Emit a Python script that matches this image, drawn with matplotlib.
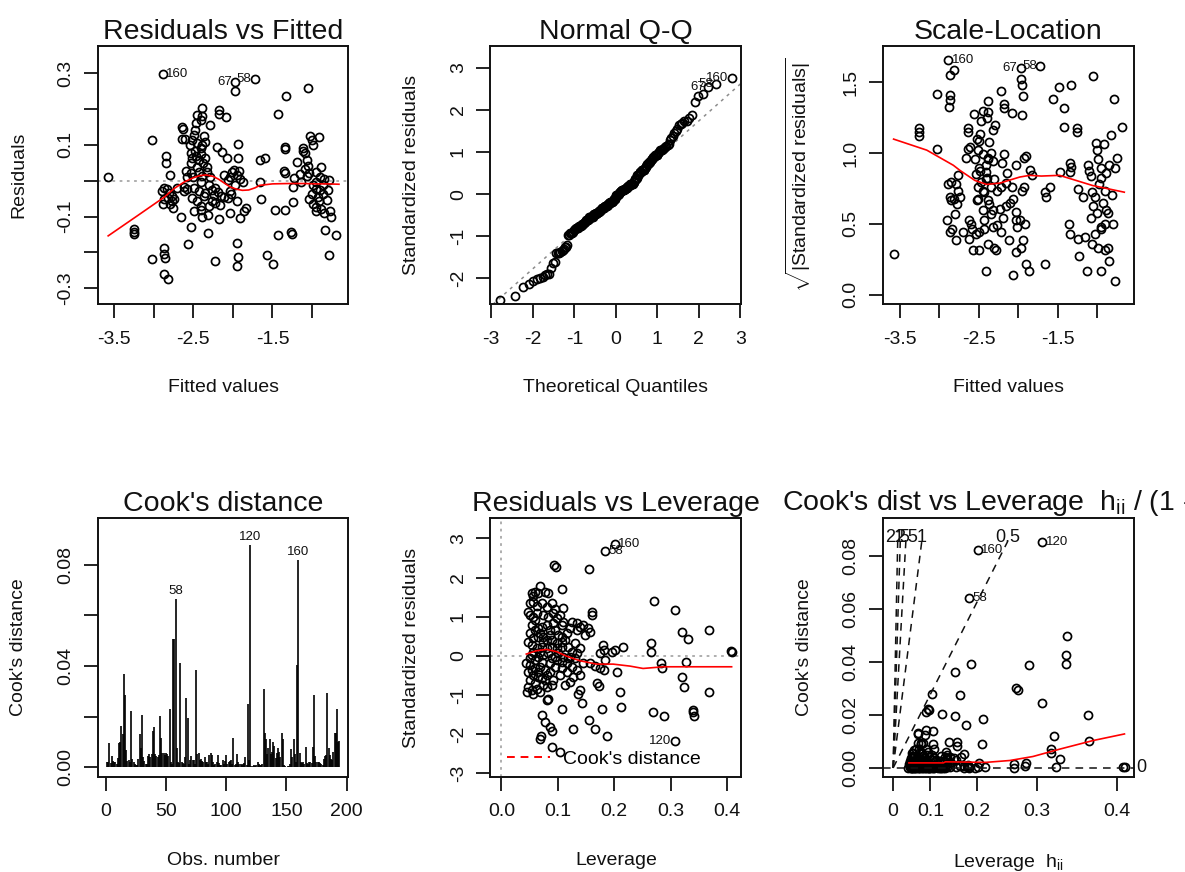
import numpy as np
import matplotlib
matplotlib.use("Agg")
import matplotlib.pyplot as plt
from matplotlib.lines import Line2D
from statistics import NormalDist

# ---- lm diagnostics, values ----

# fitted values and raw residuals (Residuals vs Fitted panel)
fitted = np.array([
    -3.575, -3.25, -3.25, -3.25, -3.021, -3.021, -2.883, -2.846, -2.846, -2.792,
    -2.867, -2.9, -2.833, -2.804, -2.775, -2.867, -2.817, -2.763, -2.742, -2.883,
    -2.792, -2.758, -2.875, -2.867, -2.858, -2.867, -2.817, -2.658, -2.638, -2.633,
    -2.638, -2.604, -2.596, -2.617, -2.583, -2.525, -2.563, -2.513, -2.471, -2.479,
    -2.388, -2.388, -2.4, -2.292, -2.492, -2.513, -2.45, -2.367, -2.346, -2.542,
    -2.533, -2.479, -2.408, -2.513, -2.429, -2.525, -2.379, -2.346, -2.45, -2.325,
    -2.471, -2.4, -2.533, -2.429, -2.388, -2.325, -2.283, -2.5, -2.492, -2.408,
    -2.304, -2.263, -2.346, -2.429, -2.408, -2.408, -2.304, -2.388, -2.317, -2.45,
    -2.317, -2.179, -2.179, -2.083, -2.2, -2.137, -2.075, -2.221, -2.192, -2.15,
    -2.108, -2.063, -2.025, -2.233, -2.012, -1.983, -2.033, -1.971, -1.917, -1.908,
    -1.942, -2.067, -1.929, -1.929, -1.971, -1.971, -1.95, -1.938, -1.95, -2.221,
    -1.858, -1.908, -2.033, -2.179, -1.833, -1.721, -1.658, -1.596, -1.658, -1.65,
    -1.429, -1.333, -1.346, -1.337, -1.358, -1.346, -1.229, -1.242, -1.471, -1.342,
    -1.242, -1.429, -1.262, -1.254, -1.567, -1.492, -1.054, -1.021, -0.917, -1.0,
    -1.117, -1.083, -0.992, -1.108, -1.188, -1.067, -1.054, -1.083, -1.158, -1.033,
    -0.95, -0.887, -0.9, -0.854, -0.783, -1.067, -0.992, -0.95, -0.9, -0.867,
    -1.0, -0.929, -1.033, -0.908, -0.817, -0.8, -0.95, -0.95, -0.887, -0.854,
    -0.775, -0.758, -0.983, -0.833, -0.692, -0.792, -1.138, -0.95, -0.867, -2.575,
    -2.367, -2.263, -2.221, -2.033, -2.117, -2.492, -2.617, -2.388, -2.45, -2.7,
    -2.158, -1.95, -1.867])
residuals = np.array([
    0.009, -0.135, -0.142, -0.15, 0.114, -0.218, 0.297, 0.068, 0.048, 0.016,
    -0.021, -0.03, -0.023, -0.035, -0.044, -0.051, -0.049, -0.058, -0.051, -0.066,
    -0.066, -0.077, -0.189, -0.204, -0.215, -0.261, -0.273, -0.1, 0.15, 0.143,
    0.115, 0.117, 0.027, -0.017, -0.023, -0.13, -0.176, -0.049, 0.162, 0.14,
    0.202, 0.18, 0.168, 0.156, 0.128, 0.113, 0.106, 0.125, 0.108, 0.099,
    0.078, 0.082, 0.09, 0.062, 0.057, 0.048, 0.048, 0.062, 0.039, 0.039,
    0.069, 0.073, 0.02, 0.023, 0.014, 0.025, 0.011, 0.011, -0.021, -0.003,
    -0.012, -0.026, -0.035, -0.03, -0.072, -0.081, -0.072, -0.1, -0.097, -0.058,
    -0.146, 0.196, 0.187, 0.177, 0.094, 0.08, 0.062, -0.021, -0.032, -0.042,
    -0.045, -0.049, -0.037, -0.04, 0.025, 0.03, 0.01, -0.012, 0.027, 0.005,
    0.016, 0.002, 0.101, 0.062, 0.276, 0.251, -0.174, -0.212, -0.238, -0.223,
    -0.084, -0.104, -0.09, -0.106, -0.077, 0.283, 0.057, 0.062, -0.005, -0.051,
    0.187, 0.237, 0.094, 0.088, 0.027, 0.02, 0.008, -0.017, -0.081, -0.081,
    -0.06, -0.152, -0.143, -0.149, -0.206, -0.232, 0.258, 0.124, 0.122, 0.113,
    0.09, 0.076, 0.099, 0.082, 0.051, 0.057, 0.042, 0.032, 0.018, 0.02,
    0.025, 0.039, 0.011, 0.006, 0.001, 0.014, -0.012, -0.023, -0.027, -0.036,
    -0.036, -0.045, -0.051, -0.058, -0.054, -0.027, -0.073, -0.086, -0.08, -0.091,
    -0.086, -0.1, -0.066, -0.137, -0.152, -0.207, -0.003, -0.003, -0.012, 0.011,
    -0.044, -0.058, -0.063, -0.03, 0.016, -0.086, -0.03, 0.099, 0.182, -0.021,
    -0.067, -0.058, -0.003])
resid_ids = [160, 58, 67]          # labels of the 3 largest |residuals|
sigma_hat = 0.108                   # residual standard error

# lowess smooths as drawn in the reference
smooth1_x = [-3.575, -3.2, -2.867, -2.742, -2.617, -2.5, -2.42, -2.34, -2.25, -2.18, -2.1, -2.03,
             -1.95, -1.88, -1.8, -1.72, -1.66, -1.5, -1.3, -1.1, -0.95, -0.8, -0.66]
smooth1_y = [-0.154, -0.097, -0.046, -0.022, -0.004, 0.008, 0.014, 0.016, 0.012, 0.004, -0.008, -0.018,
             -0.024, -0.027, -0.026, -0.02, -0.013, -0.009, -0.008, -0.008, -0.009, -0.009, -0.01]
smooth3_x = [-3.575, -3.156, -2.82, -2.737, -2.548, -2.4, -2.234, -1.982, -1.856, -1.71, -1.479,
             -1.27, -1.06, -0.661]
smooth3_y = [1.099, 1.021, 0.914, 0.878, 0.807, 0.779, 0.788, 0.831, 0.843, 0.838, 0.843,
             0.807, 0.771, 0.724]

# Cook's distance by observation number
cooks = np.array([
    0.0022, 0.0020, 0.0095, 0.0018, 0.0046, 0.0025, 0.0022, 0.0022, 0.0012, 0.0035,
    0.0098, 0.0100, 0.0165, 0.0130, 0.0370, 0.0286, 0.0070, 0.0025, 0.0030, 0.0020,
    0.0224, 0.0033, 0.0020, 0.0012, 0.0010, 0.0008, 0.0033, 0.0130, 0.0075, 0.0207,
    0.0040, 0.0025, 0.0015, 0.0012, 0.0045, 0.0052, 0.0040, 0.0052, 0.0143, 0.0160,
    0.0052, 0.0045, 0.0042, 0.0050, 0.0202, 0.0117, 0.0055, 0.0058, 0.0050, 0.0055,
    0.0052, 0.0045, 0.0230, 0.0020, 0.0012, 0.0505, 0.0507, 0.0663, 0.0078, 0.0020,
    0.0018, 0.0412, 0.0020, 0.0018, 0.0012, 0.0040, 0.0273, 0.0195, 0.0012, 0.0030,
    0.0043, 0.0030, 0.0028, 0.0015, 0.0386, 0.0052, 0.0058, 0.0030, 0.0032, 0.0025,
    0.0020, 0.0040, 0.0022, 0.0020, 0.0015, 0.0050, 0.0058, 0.0050, 0.0020, 0.0008,
    0.0012, 0.0020, 0.0048, 0.0018, 0.0010, 0.0008, 0.0030, 0.0015, 0.0025, 0.0048,
    0.0012, 0.0020, 0.0025, 0.0030, 0.0012, 0.0114, 0.0010, 0.0015, 0.0052, 0.0020,
    0.0012, 0.0012, 0.0010, 0.0015, 0.0018, 0.0040, 0.0010, 0.0250, 0.0030, 0.0878,
    0.0005, 0.0004, 0.0008, 0.0006, 0.0010, 0.0022, 0.0012, 0.0010, 0.0008, 0.0015,
    0.0308, 0.0137, 0.0110, 0.0052, 0.0075, 0.0110, 0.0052, 0.0060, 0.0100, 0.0085,
    0.0035, 0.0058, 0.0078, 0.0060, 0.0040, 0.0137, 0.0110, 0.0008, 0.0004, 0.0003,
    0.0005, 0.0006, 0.0012, 0.0072, 0.0040, 0.0110, 0.0052, 0.0020, 0.0403, 0.0820,
    0.0058, 0.0020, 0.0018, 0.0022, 0.0015, 0.0081, 0.0018, 0.0015, 0.0020, 0.0022,
    0.0018, 0.0080, 0.0286, 0.0045, 0.0022, 0.0020, 0.0020, 0.0018, 0.0012, 0.0010,
    0.0032, 0.0045, 0.0050, 0.0293, 0.0078, 0.0050, 0.0032, 0.0030, 0.0062, 0.0137,
    0.0137, 0.0230, 0.0100, 0.0102])

# leverage and standardized residuals (Residuals vs Leverage panel)
leverage = np.array([
    0.2012, 0.1834, 0.0930, 0.0965, 0.1557, 0.0681, 0.0533, 0.0562, 0.0592, 0.0651,
    0.0770, 0.0829, 0.1066, 0.0503, 0.0551, 0.0622, 0.0710, 0.0799, 0.0888, 0.0947,
    0.1095, 0.0503, 0.0562, 0.0622, 0.0740, 0.0829, 0.0918, 0.1036, 0.1083, 0.1066,
    0.1243, 0.1332, 0.1391, 0.1451, 0.1539, 0.1599, 0.1599, 0.1569, 0.1480, 0.1332,
    0.1214, 0.1155, 0.0533, 0.0592, 0.0651, 0.0710, 0.0799, 0.0858, 0.0947, 0.1007,
    0.1066, 0.0503, 0.0562, 0.0651, 0.0740, 0.0799, 0.0888, 0.0977, 0.1066, 0.1125,
    0.0533, 0.0622, 0.0710, 0.0799, 0.0888, 0.0977, 0.1066, 0.1184, 0.1243, 0.1332,
    0.0533, 0.0651, 0.0740, 0.0829, 0.0947, 0.1095, 0.1214, 0.1303, 0.1806, 0.1818,
    0.1747, 0.1835, 0.0432, 0.0503, 0.0592, 0.0681, 0.0770, 0.0474, 0.0562, 0.0651,
    0.0503, 0.0592, 0.0710, 0.0799, 0.0858, 0.0947, 0.0977, 0.1066, 0.1155, 0.1243,
    0.1332, 0.1391, 0.1155, 0.1066, 0.1273, 0.0918, 0.1036, 0.1214, 0.0888, 0.0799,
    0.0474, 0.0533, 0.0622, 0.0681, 0.0740, 0.0562, 0.0444, 0.0811, 0.1421, 0.1066,
    0.0829, 0.0710, 0.0769, 0.0858, 0.0888, 0.0698, 0.0680, 0.0888, 0.1036, 0.1550,
    0.1657, 0.1272, 0.1734, 0.1787, 0.1876, 0.2041, 0.2101, 0.2112, 0.1817, 0.1568,
    0.1657, 0.1746, 0.1686, 0.1390, 0.1361, 0.2645, 0.2651, 0.2704, 0.3077, 0.3195,
    0.3314, 0.3680, 0.4065, 0.4083, 0.2822, 0.2840, 0.3272, 0.3195, 0.3237, 0.3675,
    0.2680, 0.2882, 0.3402, 0.3402, 0.3414, 0.3077, 0.1953, 0.2148, 0.2012, 0.0503,
    0.0562, 0.0681, 0.0740, 0.0592, 0.0681, 0.0858, 0.0918, 0.0977, 0.0858, 0.0710,
    0.0592, 0.0651, 0.0769, 0.1125, 0.1184, 0.1303, 0.1391, 0.1451, 0.1007, 0.0888,
    0.0533, 0.0474, 0.0474])
std_resid_lev = np.array([
    2.855, 2.667, 2.325, 2.265, 2.214, 1.786, 1.598, 1.530, 1.641, 1.598,
    1.641, 1.598, 1.701, 1.342, 1.385, 1.274, 1.342, 1.256, 1.342, 1.188,
    1.214, 1.043, 1.000, 1.085, 1.043, 1.000, 1.085, 1.043, 0.872, 0.786,
    0.872, 0.829, 0.744, 0.786, 0.701, 1.128, 1.043, 0.615, 0.530, 0.658,
    0.701, 0.573, 0.786, 0.658, 0.701, 0.744, 0.786, 0.658, 0.658, 0.530,
    0.487, 0.573, 0.444, 0.487, 0.487, 0.402, 0.402, 0.316, 0.359, 0.402,
    0.274, 0.188, 0.231, 0.188, 0.231, 0.188, 0.231, 0.231, 0.103, 0.060,
    0.017, -0.026, 0.017, 0.060, -0.026, -0.026, -0.026, -0.068, 0.274, 0.145,
    0.060, -0.111, -0.197, -0.239, -0.325, -0.282, -0.368, -0.410, -0.496, -0.538,
    -0.624, -0.709, -0.581, -0.496, -0.410, -0.282, -0.111, -0.154, -0.197, -0.282,
    -0.368, -0.496, -0.410, -0.325, -0.538, -0.624, -0.496, -0.667, -0.752, -0.795,
    -0.795, -0.880, -0.838, -0.923, -0.752, -0.966, -0.923, -1.137, -1.205, -1.368,
    -1.094, -1.521, -1.692, -1.821, -1.923, -2.060, -2.128, -2.333, -2.462, -1.632,
    -1.863, -1.863, -0.778, -1.368, -2.060, -0.427, -0.923, -1.308, -0.368, -0.179,
    -0.265, -0.325, -0.709, -0.880, -0.966, 0.316, 0.103, 1.410, 1.171, 0.615,
    0.419, 0.658, 0.128, 0.103, -0.197, -0.325, -0.154, -0.538, -0.795, -0.923,
    -1.436, -1.547, -1.376, -1.436, -1.547, -2.188, 0.103, 0.214, 0.145, -0.068,
    0.103, 0.103, 0.359, 0.902, 0.573, 0.529, 0.829, 0.958, -0.197, -0.154,
    -0.111, -0.410, -0.624, -0.752, -0.068, 0.316, 0.188, -0.197, 0.060, -0.068,
    -0.368, 0.359, 1.128])
cook_ids = [120, 160, 58]           # labels of the 3 largest Cook's distances
n_coef = 25                         # model size used in Cook's distance

smooth5_x = [0.044, 0.062, 0.08, 0.098, 0.115, 0.139, 0.169, 0.198, 0.228, 0.251, 0.287, 0.346, 0.408]
smooth5_y = [0.043, 0.128, 0.162, 0.103, -0.009, -0.128, -0.214, -0.214, -0.265, -0.325, -0.282,
             -0.282, -0.282]
smooth6_x = [0.045, 0.13, 0.135, 0.217, 0.258, 0.294, 0.332, 0.373, 0.408]
smooth6_y = [0.0019, 0.0019, 0.0023, 0.0021, 0.0028, 0.0043, 0.0071, 0.0103, 0.0128]

contour_levels = [0, 0.5, 1, 1.5, 2, 2.5]
contour_scale = 1.0

# ---- style ----
plt.rcParams['font.family'] = ['Liberation Sans', 'DejaVu Sans']
plt.rcParams['mathtext.fontset'] = 'custom'
plt.rcParams['mathtext.rm'] = 'Liberation Sans'
plt.rcParams['mathtext.it'] = 'Liberation Sans:italic'
plt.rcParams['mathtext.sf'] = 'Liberation Sans'
plt.rcParams['axes.unicode_minus'] = False

INK = '#111111'
TITLE_FS = 20.5
LAB_FS = 14
ID_FS = 9.5
pt = dict(marker='o', ls='none', mfc='none', mec='black', ms=5.8, mew=1.25)
red = dict(color='red', lw=1.2)
gray_dot = dict(color='#a8a8a8', lw=1.3, ls=(0, (1.5, 2.5)))
dash = dict(color=INK, lw=1.1, ls=(0, (5, 4)))

fig = plt.figure(figsize=(11.85, 8.72), dpi=100)
col_left = [0.0824, 0.4139, 0.7452]
row_bottom = [0.6510, 0.1090]
W, H = 0.2116, 0.2968
(ax1, ax2, ax3), (ax4, ax5, ax6) = [[fig.add_axes([c, r, W, H]) for c in col_left] for r in row_bottom]


def frame(ax, title, xlabel, ylabel, xticks, xlabels, yticks, ylabels):
    ax.set_title(title, fontsize=TITLE_FS, pad=5, color=INK)
    ax.set_xticks(xticks, xlabels)
    ax.set_yticks(yticks, ylabels, rotation=90, va='center')
    ax.tick_params(direction='out', length=10, width=1.3, labelsize=LAB_FS, colors=INK)
    ax.tick_params(axis='x', pad=9)
    ax.tick_params(axis='y', pad=7)
    for s in ax.spines.values():
        s.set_linewidth(1.4)
        s.set_color(INK)
    ax.set_xlabel(xlabel, fontsize=LAB_FS, color=INK)
    ax.set_ylabel(ylabel, fontsize=LAB_FS, color=INK)
    ax.xaxis.set_label_coords(0.5, -0.29)
    ax.yaxis.set_label_coords(-0.28, 0.5)


def tag(ax, x, y, ids, xmid):
    for xi, yi, lab in zip(x, y, ids):
        right = xi <= xmid
        ax.annotate(str(lab), (xi, yi), xytext=(2.5 if right else -2.5, 0), textcoords='offset points',
                    ha='left' if right else 'right', va='center', fontsize=ID_FS, color=INK)


std_res = residuals / sigma_hat
top = np.argsort(-np.abs(std_res))[:3]
fmid = (fitted.min() + fitted.max()) / 2

# 1. Residuals vs Fitted
ax1.axhline(0, **gray_dot)
ax1.plot(fitted, residuals, **pt)
ax1.plot(smooth1_x, smooth1_y, **red)
tag(ax1, fitted[top], residuals[top], resid_ids, fmid)
ax1.set_xlim(-3.708, -0.541)
ax1.set_ylim(-0.345, 0.377)
frame(ax1, "Residuals vs Fitted", "Fitted values", "Residuals",
      [-3.5, -3.0, -2.5, -2.0, -1.5, -1.0], ['-3.5', '', '-2.5', '', '-1.5', ''],
      [-0.3, -0.2, -0.1, 0.0, 0.1, 0.2, 0.3], ['-0.3', '', '-0.1', '', '0.1', '', '0.3'])

# 2. Normal Q-Q
n = len(std_res)
order = np.argsort(std_res)
nd = NormalDist()
theo = np.empty(n)
theo[order] = [nd.inv_cdf((i - 0.5) / n) for i in range(1, n + 1)]
q25, q75 = np.quantile(std_res, [0.25, 0.75])
z25, z75 = nd.inv_cdf(0.25), nd.inv_cdf(0.75)
ax2.axline((z25, q25), slope=(q75 - q25) / (z75 - z25), color='#8c8c8c', lw=1.1, ls=(0, (2, 3)))
ax2.plot(theo, std_res, **pt)
tag(ax2, theo[top], std_res[top], resid_ids, 0.0)
ax2.set_xlim(-3.02, 3.02)
ax2.set_ylim(-2.62, 3.53)
frame(ax2, "Normal Q-Q", "Theoretical Quantiles", "Standardized residuals",
      range(-3, 4), [str(v) for v in range(-3, 4)], range(-2, 4), [str(v) for v in range(-2, 4)])

# 3. Scale-Location
sl = np.sqrt(np.abs(std_res))
ax3.plot(fitted, sl, **pt)
ax3.plot(smooth3_x, smooth3_y, **red)
tag(ax3, fitted[top], sl[top], resid_ids, fmid)
ax3.set_xlim(-3.708, -0.541)
ax3.set_ylim(-0.068, 1.76)
frame(ax3, "Scale-Location", "Fitted values", r"$\sqrt{|\mathrm{Standardized\ residuals}|}$",
      [-3.5, -3.0, -2.5, -2.0, -1.5, -1.0], ['-3.5', '', '-2.5', '', '-1.5', ''],
      [0.0, 0.5, 1.0, 1.5], ['0.0', '0.5', '1.0', '1.5'])

# 4. Cook's distance
obs = np.arange(1, len(cooks) + 1)
ax4.vlines(obs, 0, cooks, color='black', lw=1.2)
for i in np.argsort(-cooks)[:3]:
    ax4.annotate(str(obs[i]), (obs[i], cooks[i]), xytext=(0, 1.5), textcoords='offset points',
                 ha='center', va='bottom', fontsize=ID_FS, color=INK)
ax4.set_xlim(-6.8, 201.5)
ax4.set_ylim(-0.0038, 0.0984)
frame(ax4, "Cook's distance", "Obs. number", "Cook's distance",
      [0, 50, 100, 150, 200], ['0', '50', '100', '150', '200'],
      [0, 0.02, 0.04, 0.06, 0.08], ['0.00', '', '0.04', '', '0.08'])

# 5. Residuals vs Leverage
cook_lev = std_resid_lev ** 2 * leverage / (1 - leverage) / n_coef
top_c = np.argsort(-cook_lev)[:3]
ax5.axvline(0, **gray_dot)
ax5.axhline(0, **gray_dot)
ax5.plot(leverage, std_resid_lev, **pt)
ax5.plot(smooth5_x, smooth5_y, **red)
tag(ax5, leverage[top_c], std_resid_lev[top_c], cook_ids, (leverage.min() + leverage.max()) / 2)
ax5.legend([Line2D([], [], color='red', lw=1.4, ls=(0, (4, 3)))], ["Cook's distance"],
           loc='lower left', bbox_to_anchor=(0.05, 0.02), frameon=False, fontsize=LAB_FS,
           handlelength=2.2, handletextpad=0.7, borderpad=0.2, borderaxespad=0.0)
ax5.set_xlim(-0.0195, 0.425)
ax5.set_ylim(-3.10, 3.52)
frame(ax5, "Residuals vs Leverage", "Leverage", "Standardized residuals",
      [0, 0.1, 0.2, 0.3, 0.4], ['0.0', '0.1', '0.2', '0.3', '0.4'],
      range(-3, 4), [str(v) for v in range(-3, 4)])

# 6. Cook's dist vs Leverage h/(1-h)
ax6.set_xscale('function', functions=(lambda h: h / (1 - h), lambda g: g / (1 + g)))
ax6.plot(leverage, cook_lev, **pt)
ax6.plot(smooth6_x, smooth6_y, **red)
g = leverage / (1 - leverage)
tag(ax6, leverage[top_c], cook_lev[top_c], cook_ids, (g.min() + g.max()) / 2)
y_end = 0.0852
for b in contour_levels:
    if b == 0:
        ax6.axhline(0, **dash)
        ax6.annotate('0', xy=(1, 0), xycoords=('axes fraction', 'data'), xytext=(1.5, 0),
                     textcoords='offset points', ha='left', va='center', fontsize=13,
                     color=INK, annotation_clip=False)
    else:
        g_end = contour_scale * y_end / b ** 2
        h_end = g_end / (1 + g_end)
        ax6.plot([0, h_end], [0, y_end], **dash)
        ax6.text(h_end, y_end, f'{b:g}', ha='center', va='baseline', fontsize=13, color=INK)
ax6.set_xlim(-0.0309, 0.4176)
ax6.set_ylim(-0.0034, 0.0941)
frame(ax6, r"Cook's dist vs Leverage  $\mathrm{h_{ii}}$ / (1 - $\mathrm{h_{ii}}$)", r"Leverage  $\mathrm{h_{ii}}$",
      "Cook's distance", [0, 0.1, 0.2, 0.3, 0.4], ['0', '0.1', '0.2', '0.3', '0.4'],
      [0, 0.02, 0.04, 0.06, 0.08], ['0.00', '0.02', '0.04', '0.06', '0.08'])

fig.savefig("out.png", dpi=100)
